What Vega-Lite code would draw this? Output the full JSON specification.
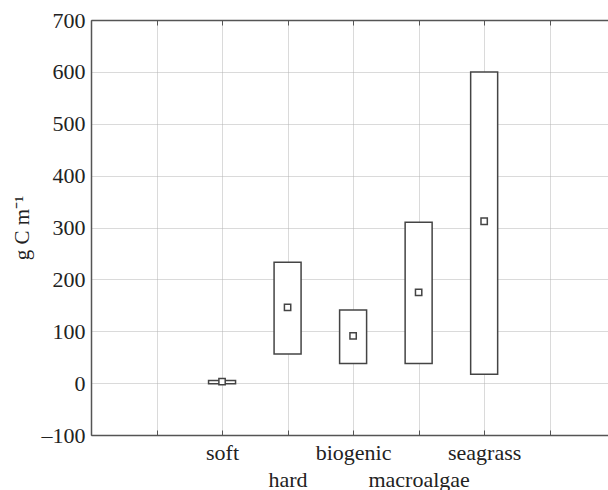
{
  "$schema": "https://vega.github.io/schema/vega-lite/v6.json",
  "width": 517,
  "height": 415,
  "autosize": {"type": "none"},
  "padding": {"left": 91, "top": 20, "right": 0, "bottom": 55},
  "background": "white",
  "config": {
    "view": {"stroke": null},
    "font": "Liberation Serif",
    "scale": {"continuousPadding": 0},
    "axis": {
      "domainColor": "#555555",
      "domainWidth": 1.5,
      "tickColor": "#555555",
      "gridColor": "#b4b4b4",
      "gridDash": [1, 1],
      "gridWidth": 1,
      "labelFont": "Liberation Serif",
      "labelFontSize": 22,
      "labelColor": "#222222",
      "titleFont": "Liberation Serif",
      "titleFontWeight": "normal",
      "titleColor": "#222222"
    }
  },
  "data": {
    "values": [
      {"habitat": "soft", "pos": 2, "low": -1, "high": 5, "mean": 3},
      {"habitat": "hard", "pos": 3, "low": 56, "high": 233, "mean": 146},
      {"habitat": "biogenic", "pos": 4, "low": 38, "high": 141, "mean": 91},
      {"habitat": "macroalgae", "pos": 5, "low": 38, "high": 310, "mean": 175},
      {"habitat": "seagrass", "pos": 6, "low": 17, "high": 600, "mean": 312}
    ]
  },
  "layer": [
    {
      "mark": {"type": "bar", "width": 27, "fill": "white", "stroke": "#444444", "strokeWidth": 1.5},
      "encoding": {
        "x": {
          "field": "pos", "type": "quantitative",
          "scale": {"domain": [0, 7.89], "nice": false, "zero": false, "padding": 0},
          "axis": {
            "orient": "bottom", "title": null,
            "values": [0, 1, 2, 3, 4, 5, 6, 7],
            "grid": true, "ticks": true, "tickSize": -5,
            "labelPadding": 12, "labelBaseline": "top", "labelLineHeight": 27,
            "labelFlush": false, "labelOverlap": false,
            "labelExpr": "datum.value == 2 ? 'soft' : datum.value == 3 ? ['', 'hard'] : datum.value == 4 ? 'biogenic' : datum.value == 5 ? ['', 'macroalgae'] : datum.value == 6 ? 'seagrass' : ''"
          }
        },
        "y": {
          "field": "low", "type": "quantitative",
          "scale": {"domain": [-100, 700], "nice": false, "zero": false},
          "axis": {
            "title": "g C m⁻¹", "titleFontSize": 21, "titlePadding": 9,
            "values": [-100, 0, 100, 200, 300, 400, 500, 600, 700],
            "grid": true, "ticks": false, "labelPadding": 6,
            "labelExpr": "datum.value < 0 ? '–' + abs(datum.value) : datum.label"
          }
        },
        "y2": {"field": "high"}
      }
    },
    {
      "mark": {"type": "point", "shape": "square", "size": 40, "filled": true, "fill": "white", "stroke": "#444444", "strokeWidth": 1.5, "opacity": 1},
      "encoding": {
        "x": {
          "field": "pos", "type": "quantitative",
          "axis": {"orient": "top", "title": null, "labels": false, "grid": false, "ticks": true, "tickSize": -5, "values": [0, 1, 2, 3, 4, 5, 6, 7]}
        },
        "y": {"field": "mean", "type": "quantitative"}
      }
    }
  ],
  "resolve": {"axis": {"x": "independent"}}
}
